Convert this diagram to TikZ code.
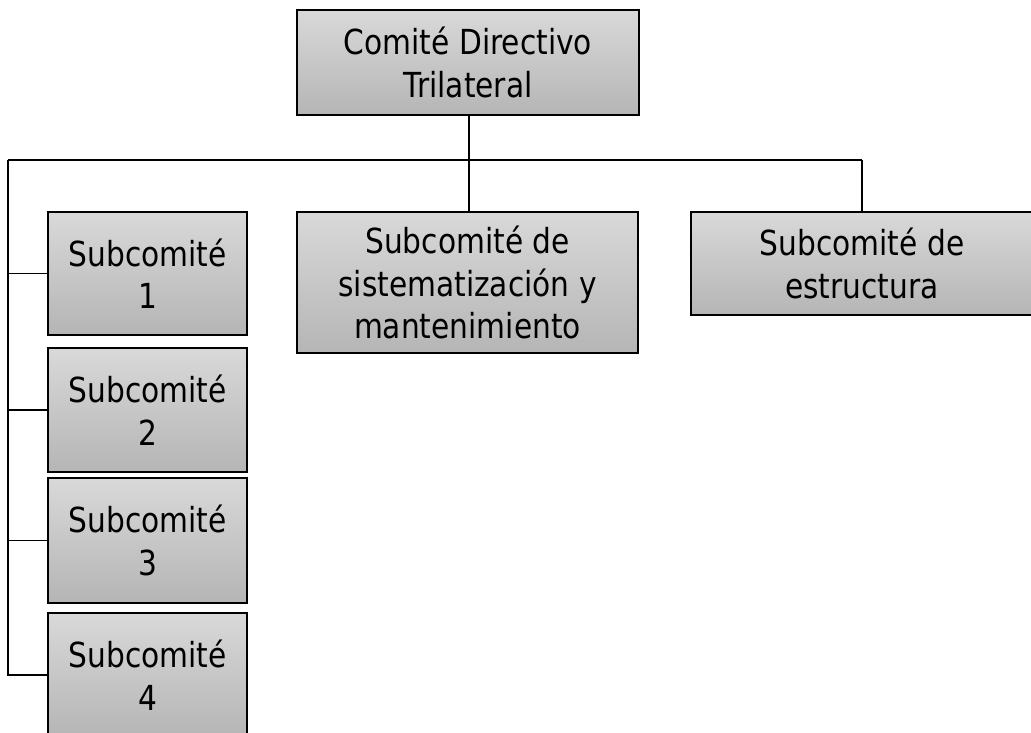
\documentclass[tikz,border=0pt]{standalone}
\usepackage{fontspec}
\setmainfont{DejaVu Sans}[FakeStretch=0.86]
\begin{document}
\begin{tikzpicture}[x=1pt,y=-1pt,
  box/.style={draw=black,line width=1.5pt,shading=axis,shading angle=135,
    top color=gray!30,bottom color=gray!58,
    inner sep=0pt,align=center,font=\fontsize{34.5}{42.5}\selectfont},
  link/.style={draw=black,line width=1.5pt}]
\useasboundingbox (0,0) rectangle (1031,733);
\begin{scope}
\clip (0,0) rectangle (1031,733);
\node[box,minimum width=342pt,minimum height=105pt] (top) at (468,62.5) {Comité Directivo\\Trilateral};
\node[box,minimum width=341pt,minimum height=141pt] (sis) at (467.5,282.5) {Subcomité de\\sistematización y\\mantenimiento};
\node[box,minimum width=342pt,minimum height=103pt] (est) at (862,263.5) {Subcomité de\\estructura};
\node[box,minimum width=199pt,minimum height=123pt] (s1) at (147.5,273.5) {Subcomité\\1};
\node[box,minimum width=199pt,minimum height=124pt] (s2) at (147.5,410) {Subcomité\\2};
\node[box,minimum width=199pt,minimum height=125pt] (s3) at (147.5,540.5) {Subcomité\\3};
\node[box,minimum width=199pt,minimum height=124pt] (s4) at (147.5,675) {Subcomité\\4};
\end{scope}
\coordinate (j) at (469,160);
\coordinate (jl) at (8,160);
\coordinate (jr) at (est.north |- 0,160);
\draw[link] (j |- top.south) -- (j);
\draw[link] (jl) -- (jr);
\draw[link] (j) -- (j |- sis.north);
\draw[link] (jr) -- (est.north);
\draw[link] (jl) |- (s4.west);
\draw[link] (jl |- s1.west) -- (s1.west);
\draw[link] (jl |- s2.west) -- (s2.west);
\draw[link] (jl |- s3.west) -- (s3.west);
\end{tikzpicture}
\end{document}
